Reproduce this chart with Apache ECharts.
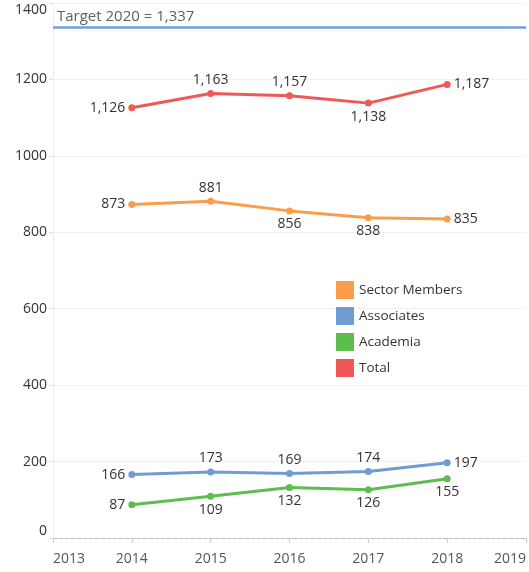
<!DOCTYPE html>
<html>
<head>
<meta charset="utf-8">
<script src="https://cdn.jsdelivr.net/npm/echarts@6/dist/echarts.min.js"></script>
<style>
  html, body { margin: 0; padding: 0; background: #fff; }
  #chart { width: 529px; height: 572px; }
</style>
</head>
<body>
<div id="chart"></div>
<script>
// Membership counts per year
const years = [2014, 2015, 2016, 2017, 2018];
const sectorMembers = [873, 881, 856, 838, 835];
const associates = [166, 173, 169, 174, 197];
const academia = [87, 109, 132, 126, 155];
const total = [1126, 1163, 1157, 1138, 1187];
const target2020 = 1337;

// Label side for each point, per series
const sectorPos = ['left', 'top', 'bottom', 'bottom', 'right'];
const associatesPos = ['left', 'top', 'top', 'top', 'right'];
const academiaPos = ['left', 'bottom', 'bottom', 'bottom', 'bottom'];
const totalPos = ['left', 'top', 'top', 'bottom', 'right'];

const FONT = '"Open Sans", "Noto Sans", sans-serif';
const fmt = v => v.toLocaleString('en-US');

function makeSeries(name, values, positions, color) {
  return {
    name: name,
    type: 'line',
    data: years.map((y, i) => ({
      value: [y, values[i]],
      label: { position: positions[i] }
    })),
    symbol: 'circle',
    symbolSize: 7,
    lineStyle: { width: 3, color: color },
    itemStyle: { color: color },
    label: {
      show: true,
      fontFamily: FONT,
      fontSize: 14,
      color: '#333',
      distance: 3,
      formatter: p => fmt(p.value[1])
    },
    emphasis: { disabled: true },
    z: 3
  };
}

const chart = echarts.init(document.getElementById('chart'));
const series = [
  makeSeries('Sector Members', sectorMembers, sectorPos, '#F99D4C'),
  makeSeries('Associates', associates, associatesPos, '#6F9DD3'),
  makeSeries('Academia', academia, academiaPos, '#5DBE4F'),
  makeSeries('Total', total, totalPos, '#EE5955')
];
// Target reference line
series[3].markLine = {
  silent: true,
  symbol: 'none',
  data: [{ yAxis: target2020 }],
  lineStyle: { color: '#6F9FE0', width: 2.5, type: 'solid' },
  label: {
    position: 'insideStartTop',
    fontFamily: FONT,
    fontSize: 15,
    color: '#606060',
    distance: [4, 3],
    formatter: () => 'Target 2020 = ' + fmt(target2020)
  }
};

chart.setOption({
  animation: false,
  textStyle: { fontFamily: FONT },
  grid: { left: 53, right: 3, top: 3, bottom: 34 },
  legend: {
    data: ['Sector Members', 'Associates', 'Academia', 'Total'],
    orient: 'vertical',
    left: 331,
    top: 276,
    icon: 'rect',
    itemWidth: 18,
    itemHeight: 18,
    itemGap: 8,
    textStyle: { fontFamily: FONT, fontSize: 13.5, color: '#333' }
  },
  xAxis: {
    type: 'value',
    min: 2013,
    max: 2019,
    interval: 1,
    axisLine: { show: true, lineStyle: { color: '#bbb', type: 'dashed', width: 1 } },
    axisTick: { show: true, length: 5, lineStyle: { color: '#ccc' } },
    splitLine: { show: false },
    axisLabel: {
      fontFamily: FONT,
      fontSize: 14,
      color: '#555',
      margin: 14,
      alignMinLabel: 'left',
      alignMaxLabel: 'right',
      formatter: v => String(v)
    }
  },
  yAxis: {
    type: 'value',
    min: 0,
    max: 1400,
    interval: 200,
    axisLine: { show: true, lineStyle: { color: '#eee' } },
    axisTick: { show: true, length: 4, lineStyle: { color: '#ddd' } },
    splitLine: { show: true, lineStyle: { color: '#f0f0f0' } },
    axisLabel: {
      fontFamily: FONT,
      fontSize: 14,
      color: '#333',
      margin: 6,
      verticalAlignMinLabel: 'bottom',
      verticalAlignMaxLabel: 'top',
      formatter: v => String(v)
    }
  },
  series: series
});
</script>
</body>
</html>
